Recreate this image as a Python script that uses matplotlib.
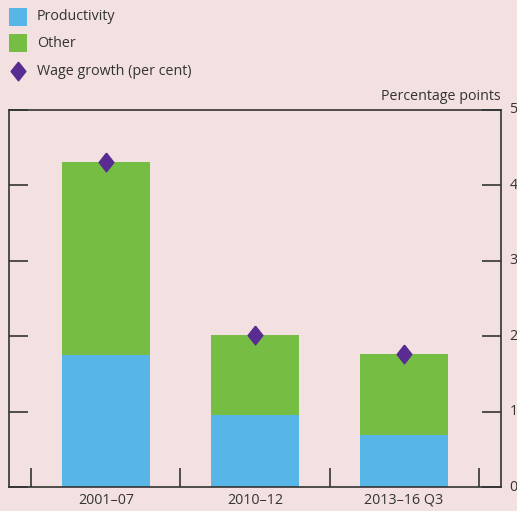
import matplotlib
matplotlib.use("Agg")
import matplotlib.pyplot as plt
from matplotlib.patches import Rectangle

categories = ["2001\u201307", "2010\u201312", "2013\u201316 Q3"]
productivity = [1.75, 0.95, 0.69]
other = [2.56, 1.07, 1.07]
wage_growth = [4.31, 2.02, 1.76]
y_ticks = [0, 1, 2, 3, 4, 5]
legend_labels = ["Productivity", "Other", "Wage growth (per cent)"]

bg = "#f3e1e2"
blue = "#57b5e7"
green = "#76bd43"
purple = "#582c91"
txt = "#333333"

plt.rcParams["font.family"] = ["Open Sans", "DejaVu Sans"]
plt.rcParams["font.size"] = 10.3

W, H = 517, 511
fig = plt.figure(figsize=(W / 100, H / 100), dpi=100, facecolor=bg)
ax = fig.add_axes([9 / W, 1 - 487 / H, 492 / W, 377 / H])
ax.set_facecolor(bg)

x = list(range(len(categories)))
ax.bar(x, productivity, width=0.59, color=blue, zorder=2)
ax.bar(x, other, width=0.59, bottom=productivity, color=green, zorder=2)

diamond = [(0, 1), (0.79, 0), (0, -1), (-0.79, 0), (0, 1)]
ax.plot(x, wage_growth, linestyle="none", marker=diamond, markersize=13.5,
        color=purple, zorder=3)

ax.set_xlim(-0.651, 2.651)
ax.set_ylim(0, 5)
ax.set_yticks(y_ticks)
ax.set_xticks(x)
ax.set_xticklabels(categories, color=txt)
ax.set_xticks([-0.5, 0.5, 1.5, 2.5], minor=True)
ax.tick_params(axis="x", which="major", length=0, pad=4)
ax.tick_params(axis="x", which="minor", direction="in", length=14, width=1.2, color=txt)
ax.tick_params(axis="y", left=True, right=True, labelleft=False, labelright=True,
               direction="in", length=14, width=1.2, color=txt, labelcolor=txt, pad=6)
for lab in ax.get_yticklabels():
    lab.set_verticalalignment("center")
for s in ax.spines.values():
    s.set_color(txt)
    s.set_linewidth(1.2)

fig.text(501 / W, 1 - 97 / H, "Percentage points", ha="right", va="center",
         color=txt)

# legend drawn by hand so the swatches come out square
rows_y = [17, 43, 71]
for c, yy in zip([blue, green], rows_y[:2]):
    fig.add_artist(Rectangle((9 / W, 1 - (yy + 9) / H), 18 / W, 18 / H,
                             transform=fig.transFigure, facecolor=c, edgecolor="none"))
fig.add_artist(plt.Line2D([18 / W], [1 - rows_y[2] / H], transform=fig.transFigure,
                          linestyle="none", marker=diamond, markersize=13.5, color=purple))
for lab, yy in zip(legend_labels, rows_y):
    fig.text(37 / W, 1 - yy / H, lab, ha="left", va="center", color=txt)

fig.savefig("out.png", dpi=100, facecolor=bg)
